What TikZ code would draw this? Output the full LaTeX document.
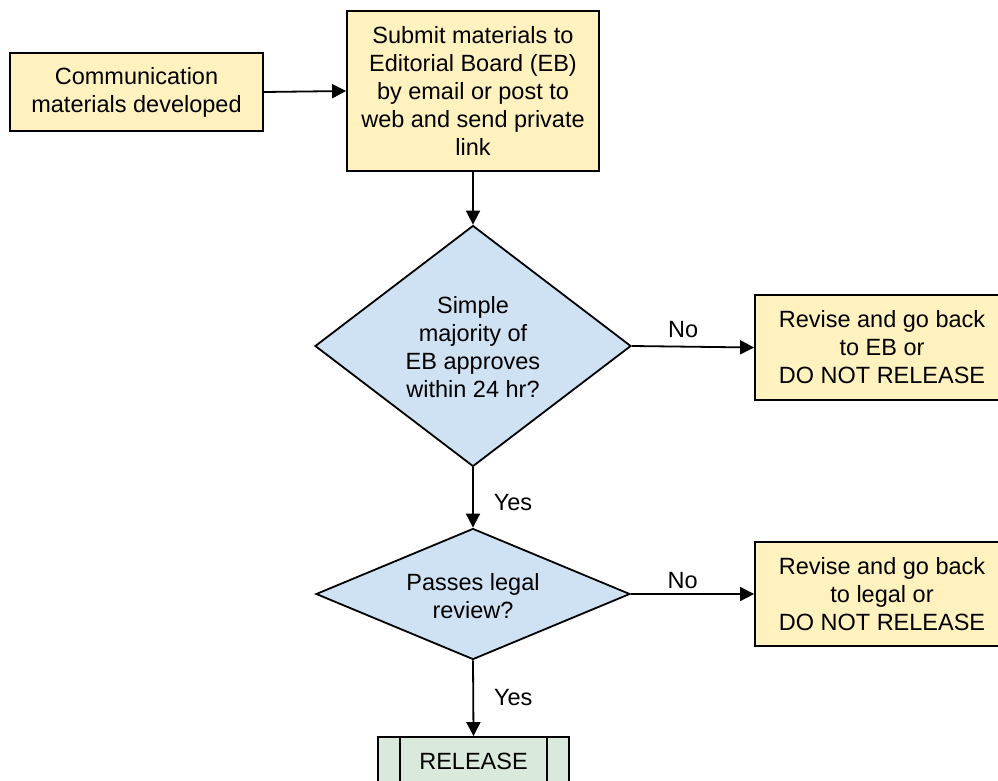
\documentclass[tikz,border=0pt]{standalone}
\usepackage{fontspec}
\setmainfont{Liberation Sans}
\usetikzlibrary{shapes.geometric,arrows.meta}
\definecolor{boxyellow}{RGB}{255,242,190}
\definecolor{decblue}{RGB}{207,226,243}
\definecolor{relgreen}{RGB}{217,234,220}
\tikzset{
  every node/.style={font=\fontsize{23.5}{28}\selectfont},
  procbox/.style={draw=black, line width=1.8pt, fill=boxyellow, align=center, inner sep=0pt},
  decshape/.style={draw=black, line width=1.8pt, fill=decblue, shape=diamond, inner sep=0pt},
  dectext/.style={align=center, inner sep=0pt},
  relbox/.style={draw=black, line width=1.8pt, fill=relgreen, align=center, inner sep=0pt},
  arr/.style={line width=1.8pt, -{Triangle[length=14pt,width=14pt]}},
  lbl/.style={inner sep=0pt}
}
\begin{document}
\begin{tikzpicture}[x=1pt,y=-1pt]
\useasboundingbox (0,0) rectangle (998,781);
\node[procbox, minimum width=253pt, minimum height=78pt] (b1) at (136.5,92) {Communication\\materials developed};
\node[procbox, minimum width=252pt, minimum height=160pt] (b2) at (473,91) {Submit materials to\\Editorial Board (EB)\\by email or post to\\web and send private\\link};
\node[decshape, minimum width=316pt, minimum height=241pt] (d1) at (473,346) {};
\node[dectext] (d1t) at (473,347) {Simple\\majority of\\EB approves\\within 24 hr?};
\node[procbox, minimum width=254pt, minimum height=105pt] (b3) at (882,347.5) {Revise and go back\\to EB or\\DO NOT RELEASE};
\node[decshape, minimum width=314pt, minimum height=131pt] (d2) at (473,594) {};
\node[dectext] (d2t) at (473,596) {Passes legal\\review?};
\node[procbox, minimum width=254pt, minimum height=104pt] (b4) at (882,594) {Revise and go back\\to legal or\\DO NOT RELEASE};
\node[relbox, minimum width=191pt, minimum height=48pt] (rel) at (473.5,761) {RELEASE};
\draw[line width=1.8pt] ([xshift=23pt]rel.north west) -- ([xshift=23pt]rel.south west);
\draw[line width=1.8pt] ([xshift=-23pt]rel.north east) -- ([xshift=-23pt]rel.south east);
\draw[arr] (b1.east) -- (b2.west);
\draw[arr] (b2.south) -- (d1.north);
\draw[arr] (d1.east) -- node[lbl, pos=0.42, yshift=17pt] (no1) {No} (b3.west);
\draw[arr] (d1.south) -- node[lbl, pos=0.59, xshift=40pt] (yes1) {Yes} (d2.north);
\draw[arr] (d2.east) -- node[lbl, pos=0.42, yshift=13pt] (no2) {No} (b4.west);
\draw[arr] (d2.south) -- node[lbl, pos=0.49, xshift=40pt] (yes2) {Yes} (rel.north);
\end{tikzpicture}
\end{document}
